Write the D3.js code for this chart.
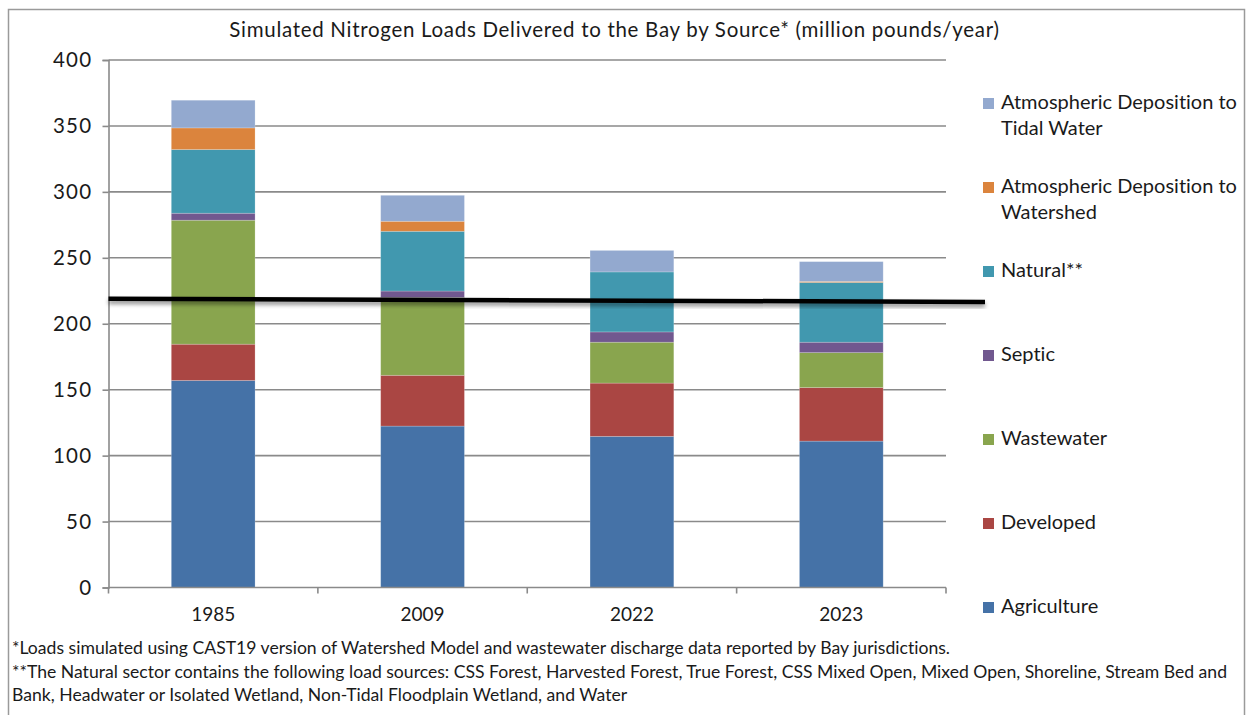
<!DOCTYPE html>
<html>
<head>
<meta charset="utf-8">
<script src="https://cdn.jsdelivr.net/npm/d3@7"></script>
<style>
  html, body { margin: 0; padding: 0; background: #fff; }
  svg { display: block; font-family: Lato, "Open Sans", sans-serif; font-variant-ligatures: none; }
</style>
</head>
<body>
<svg id="chart" width="1246" height="715"></svg>
<script>
// ---------- data ----------
const years = ["1985", "2009", "2022", "2023"];
const agriculture  = [157.0, 122.4, 114.6, 111.0];
const developed    = [27.5, 38.5, 40.4, 40.6];
const wastewater   = [94.0, 59.0, 31.0, 26.5];
const septic       = [5.3, 4.9, 7.8, 7.9];
const natural      = [48.3, 45.3, 45.5, 45.3];
const atmWatershed = [16.4, 7.6, 0.0, 0.8];
const atmTidal     = [21.0, 19.7, 16.3, 15.0];
const seriesNames = ["Agriculture", "Developed", "Wastewater", "Septic", "Natural**",
  "Atmospheric Deposition to Watershed", "Atmospheric Deposition to Tidal Water"];
const seriesColors = ["#4572A7", "#AA4643", "#89A54E", "#71588F", "#4198AF", "#DB843D", "#93A9CF"];
const legendLabels = [
  ["Atmospheric Deposition to", "Tidal Water"],
  ["Atmospheric Deposition to", "Watershed"],
  ["Natural**"], ["Septic"], ["Wastewater"], ["Developed"], ["Agriculture"]
];
const yTicks = [0, 50, 100, 150, 200, 250, 300, 350, 400];
const targetLine = [219, 216.5]; // start / end value of the black reference line
const titleText = "Simulated Nitrogen Loads Delivered to the Bay by Source* (million pounds/year)";
const footnotes = [
  "*Loads simulated using CAST19 version of Watershed Model and wastewater discharge data reported by Bay jurisdictions.",
  "**The  Natural sector contains the following load sources: CSS Forest, Harvested Forest, True Forest, CSS Mixed Open, Mixed Open, Shoreline, Stream Bed and",
  "Bank, Headwater or Isolated Wetland, Non-Tidal Floodplain Wetland, and Water"
];

// ---------- build table ----------
const seriesArrays = [agriculture, developed, wastewater, septic, natural, atmWatershed, atmTidal];
const keys = seriesNames;
const table = years.map((yr, i) => {
  const row = { year: yr };
  keys.forEach((k, j) => row[k] = seriesArrays[j][i]);
  return row;
});
const stacked = d3.stack().keys(keys)(table);

// ---------- layout ----------
const svg = d3.select("#chart");
const plot = { left: 108.5, right: 946, top: 60, bottom: 587.5 };
const textColor = "#1a1a1a";
const gridColor = "#8a8a8a";

const x = d3.scaleBand().domain(years).range([plot.left, plot.right])
  .paddingInner(0.6).paddingOuter(0.3);
const y = d3.scaleLinear().domain([0, 400]).range([plot.bottom, plot.top]);

// outer border
svg.append("rect").attr("x", 8.5).attr("y", 9.5).attr("width", 1236).attr("height", 720)
  .attr("fill", "none").attr("stroke", "#9a9a9a").attr("stroke-width", 1.5);

// title
svg.append("text").attr("x", 614.5).attr("y", 37).attr("text-anchor", "middle")
  .attr("font-size", 20.5).attr("letter-spacing", 0.7).attr("fill", textColor).text(titleText);

// gridlines
svg.append("g").selectAll("line").data(yTicks.filter(d => d > 0)).join("line")
  .attr("x1", plot.left).attr("x2", plot.right)
  .attr("y1", d => y(d)).attr("y2", d => y(d))
  .attr("stroke", gridColor).attr("stroke-width", 1.6);

// y axis
const yAxis = d3.axisLeft(y).tickValues(yTicks).tickSize(6).tickPadding(10).tickFormat(d3.format("d"));
const gy = svg.append("g").attr("transform", `translate(${plot.left},0)`).call(yAxis);
gy.select(".domain").attr("stroke", gridColor).attr("stroke-width", 1.6);
gy.selectAll(".tick line").attr("stroke", gridColor).attr("stroke-width", 1.6);
gy.selectAll(".tick text").attr("font-size", 20.5).attr("letter-spacing", 1.3).attr("fill", textColor)
  .attr("font-family", "Lato, sans-serif");

// bars
const barG = svg.append("g");
stacked.forEach((layer, j) => {
  barG.append("g").attr("fill", seriesColors[j]).selectAll("rect").data(layer).join("rect")
    .attr("x", d => x(d.data.year))
    .attr("width", x.bandwidth())
    .attr("y", d => y(d[1]))
    .attr("height", d => Math.max(0, y(d[0]) - y(d[1])))
    .attr("stroke", d => (d[1] - d[0]) > 0 ? "rgba(255,255,255,0.25)" : "none")
    .attr("stroke-width", 0.8);
});

// x axis (ticks between categories)
const step = x.step();
const boundaries = d3.range(years.length + 1).map(i => plot.left + i * step);
svg.append("line").attr("x1", plot.left).attr("x2", plot.right)
  .attr("y1", y(0)).attr("y2", y(0)).attr("stroke", gridColor).attr("stroke-width", 1.6);
svg.append("g").selectAll("line").data(boundaries).join("line")
  .attr("x1", d => d).attr("x2", d => d)
  .attr("y1", y(0)).attr("y2", y(0) + 6)
  .attr("stroke", gridColor).attr("stroke-width", 1.6);
svg.append("g").selectAll("text").data(years).join("text")
  .attr("x", d => x(d) + x.bandwidth() / 2).attr("y", y(0) + 33)
  .attr("text-anchor", "middle").attr("font-size", 19).attr("fill", textColor).text(d => d);

// reference line with shadow
const defs = svg.append("defs");
const f = defs.append("filter").attr("id", "shadow").attr("x", "-5%").attr("y", "-200%")
  .attr("width", "110%").attr("height", "500%");
f.append("feDropShadow").attr("dx", 0).attr("dy", 3).attr("stdDeviation", 2.2)
  .attr("flood-color", "#000").attr("flood-opacity", 0.45);
svg.append("line")
  .attr("x1", plot.left).attr("x2", plot.right + 39)
  .attr("y1", y(targetLine[0])).attr("y2", y(targetLine[1]))
  .attr("stroke", "#000").attr("stroke-width", 4.5).attr("filter", "url(#shadow)");

// legend
const legStartY = 109, legStep = 84;
const lg = svg.append("g").selectAll("g").data(legendLabels).join("g")
  .attr("transform", (d, i) => `translate(983,${legStartY + i * legStep})`);
lg.append("rect").attr("x", 0).attr("y", -11).attr("width", 11).attr("height", 11)
  .attr("fill", (d, i) => seriesColors[seriesColors.length - 1 - i]);
lg.each(function(lines) {
  const t = d3.select(this).append("text").attr("x", 18).attr("y", 0)
    .attr("font-size", 20).attr("fill", textColor);
  lines.forEach((ln, k) => t.append("tspan").attr("x", 18).attr("dy", k === 0 ? 0 : 26).text(ln));
});

// footnotes
svg.append("g").selectAll("text").data(footnotes).join("text")
  .attr("x", 12).attr("y", (d, i) => 654 + i * 23.5)
  .attr("font-size", 17.6).attr("fill", textColor).text(d => d);
</script>
</body>
</html>
